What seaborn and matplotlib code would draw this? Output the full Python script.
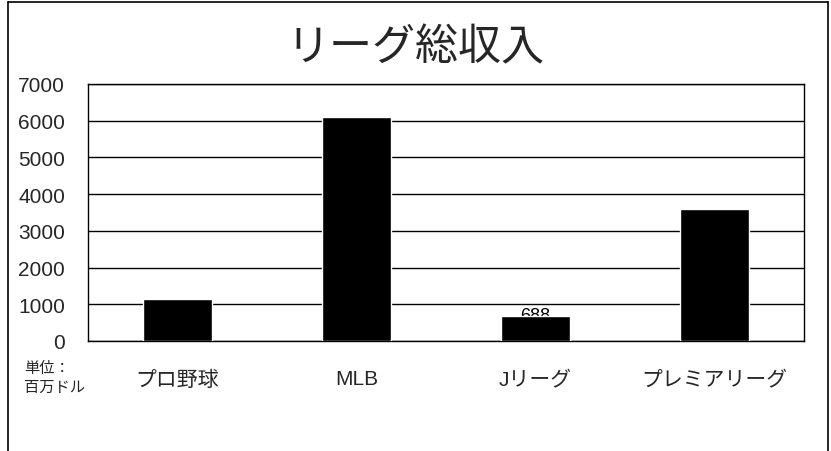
import matplotlib
matplotlib.use("Agg")
import matplotlib.pyplot as plt
import seaborn as sns
import pandas as pd
from matplotlib.lines import Line2D

# data (millions of USD)
leagues = ["プロ野球", "MLB", "Jリーグ", "プレミアリーグ"]
revenue = [1140, 6100, 688, 3600]
y_ticks = [0, 1000, 2000, 3000, 4000, 5000, 6000, 7000]

sns.set_theme(style="white")
plt.rcParams["font.family"] = ["Liberation Sans", "Noto Sans CJK JP", "DejaVu Sans"]

df = pd.DataFrame({"league": leagues, "revenue": revenue})

fig = plt.figure(figsize=(8.31, 4.52), dpi=100)
ax = fig.add_axes([0.1059, 0.2434, 0.8616, 0.5686])

sns.barplot(data=df, x="league", y="revenue", color="black", width=0.39,
            saturation=1, ax=ax, zorder=3)

# value label for Jリーグ is mostly hidden behind the bar top
ax.text(2, revenue[2] + 10, str(revenue[2]), ha="center", va="center",
        fontsize=13, color="black", zorder=2)

ax.set_ylim(0, 7000)
ax.set_yticks(y_ticks)
ax.yaxis.grid(True, color="black", linewidth=1)
ax.set_axisbelow(True)
for s in ax.spines.values():
    s.set_visible(True)
    s.set_color("black")
    s.set_linewidth(1)
ax.tick_params(axis="y", length=0, pad=16.5, labelsize=15)
ax.tick_params(axis="x", length=0, pad=20.5, labelsize=15)
ax.set_xlabel("")
ax.set_ylabel("")

fig.text(0.5, 0.891, "リーグ総収入", ha="center", va="center", fontsize=31)
fig.text(0.029, 0.163, "単位：\n百万ドル", ha="left", va="center", fontsize=11,
         linespacing=1.5)

# outer chart frame
for xs, ys in [([0.0096, 0.0096], [0.0, 0.993]),
               ([0.0096, 0.9965], [0.993, 0.993]),
               ([0.9965, 0.9965], [0.0, 0.993])]:
    fig.add_artist(Line2D(xs, ys, color="black", linewidth=1.2,
                          transform=fig.transFigure))

fig.savefig("out.png", dpi=100)
